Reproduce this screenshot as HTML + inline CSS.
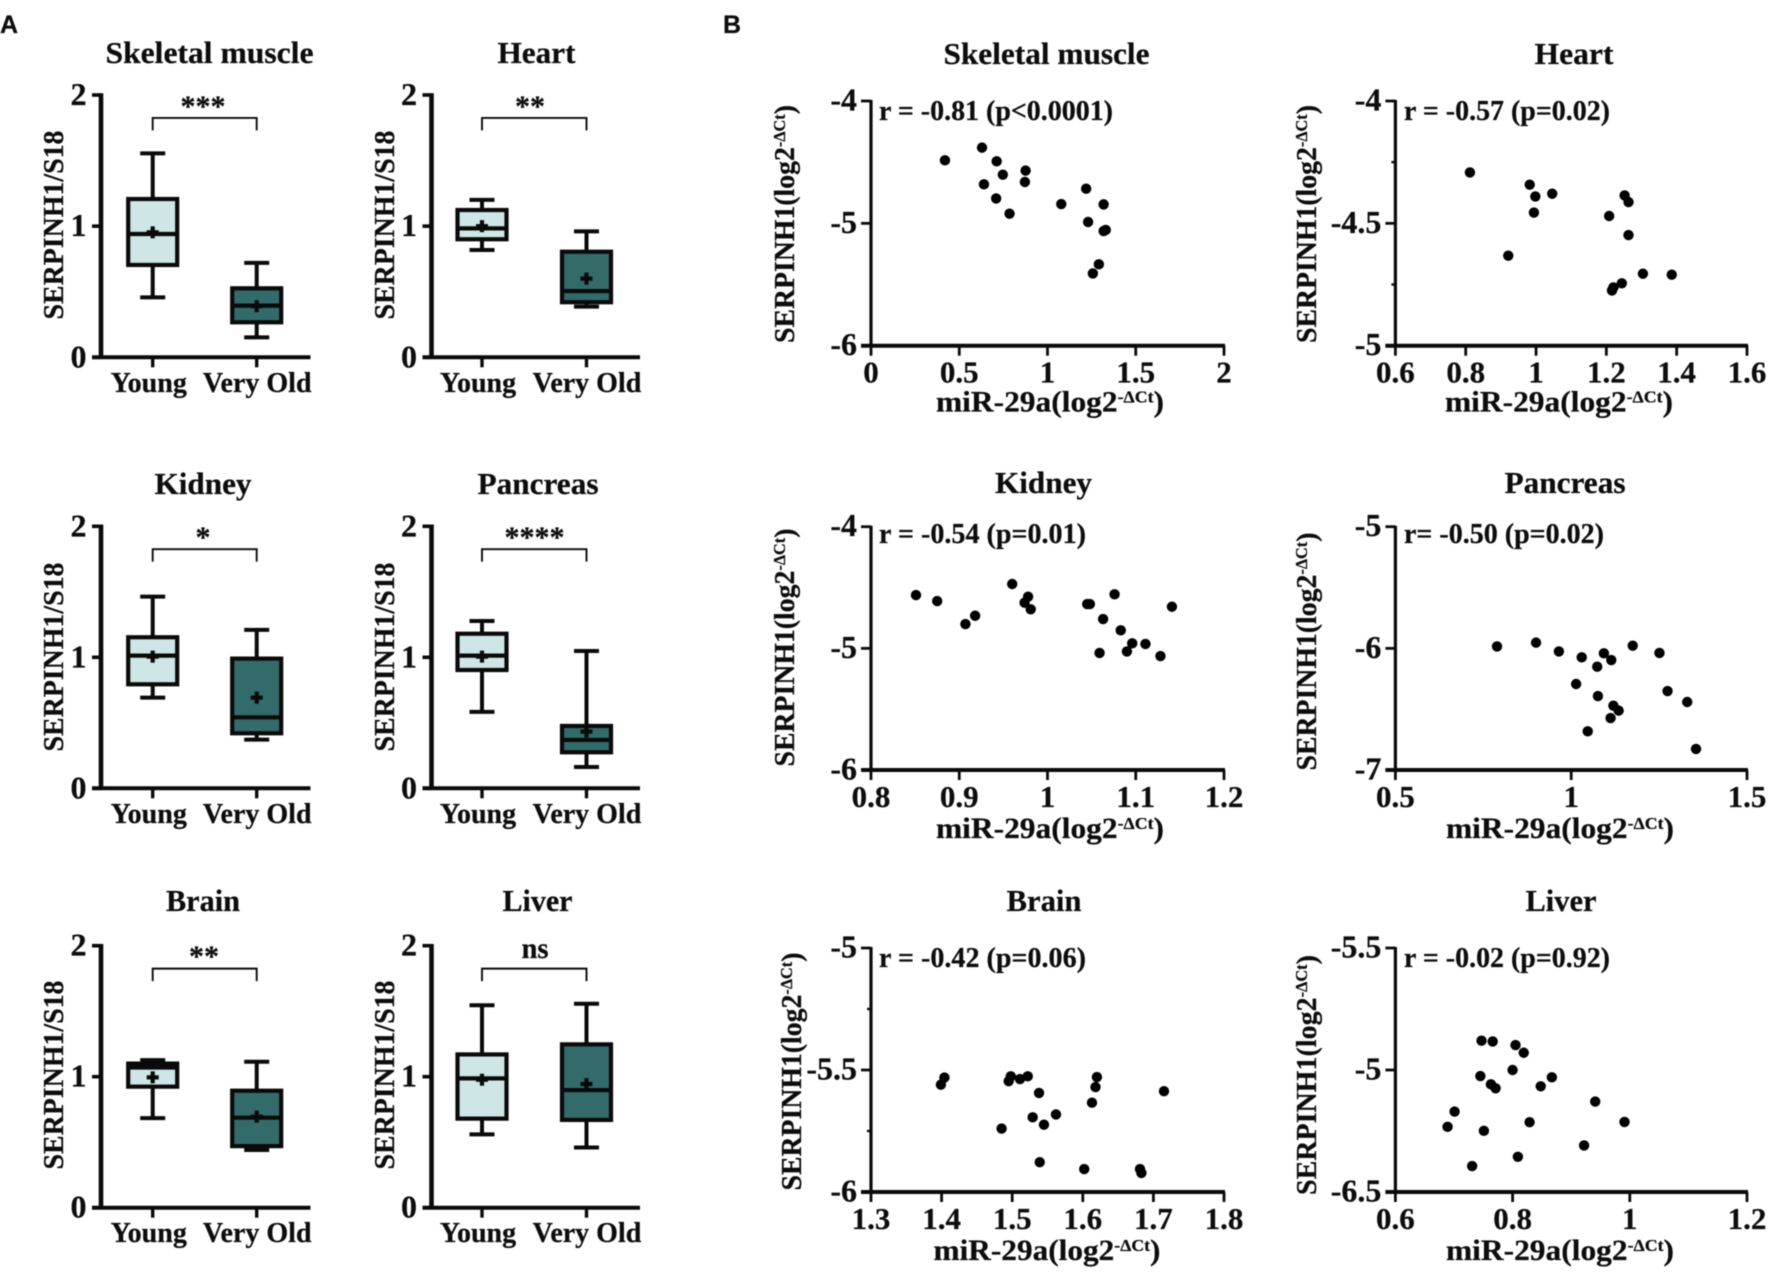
<!DOCTYPE html>
<html lang="en">
<head>
<meta charset="utf-8">
<title>SERPINH1 expression and miR-29a correlation across tissues</title>
<style>
html,body{margin:0;padding:0;background:#fff;}
svg{display:block;filter:blur(0.45px);}
text{font-family:"Liberation Serif",serif;font-weight:bold;fill:#0d0d0d;stroke:#0d0d0d;stroke-width:0.25px;}
.sans{font-family:"Liberation Sans",sans-serif;}
</style>
</head>
<body>
<svg id="figure" xmlns="http://www.w3.org/2000/svg" width="1772" height="1277" viewBox="0 0 1772 1277">
<rect x="0" y="0" width="1772" height="1277" fill="#fff"/>
<text class="sans" x="0" y="33" font-size="25">A</text>
<text class="sans" x="723" y="33" font-size="25">B</text>

<g id="box-skeletal">
<text x="209.5" y="63" text-anchor="middle" font-size="31" textLength="208" lengthAdjust="spacingAndGlyphs">Skeletal muscle</text>
<text x="63" y="225" transform="rotate(-90 63 225)" text-anchor="middle" font-size="29" textLength="189" lengthAdjust="spacingAndGlyphs">SERPINH1/S18</text>
<text x="203" y="116" text-anchor="middle" font-size="30">***</text>
</g>
<g id="box-heart">
<text x="536.5" y="63" text-anchor="middle" font-size="31" textLength="78" lengthAdjust="spacingAndGlyphs">Heart</text>
<text x="394" y="225" transform="rotate(-90 394 225)" text-anchor="middle" font-size="29" textLength="189" lengthAdjust="spacingAndGlyphs">SERPINH1/S18</text>
<text x="530" y="116" text-anchor="middle" font-size="30">**</text>
</g>
<g id="box-kidney">
<text x="203" y="494" text-anchor="middle" font-size="31" textLength="97" lengthAdjust="spacingAndGlyphs">Kidney</text>
<text x="63" y="657" transform="rotate(-90 63 657)" text-anchor="middle" font-size="29" textLength="189" lengthAdjust="spacingAndGlyphs">SERPINH1/S18</text>
<text x="203" y="547" text-anchor="middle" font-size="30">*</text>
</g>
<g id="box-pancreas">
<text x="538" y="494" text-anchor="middle" font-size="31" textLength="121" lengthAdjust="spacingAndGlyphs">Pancreas</text>
<text x="394" y="657" transform="rotate(-90 394 657)" text-anchor="middle" font-size="29" textLength="189" lengthAdjust="spacingAndGlyphs">SERPINH1/S18</text>
<text x="534.5" y="547" text-anchor="middle" font-size="30">****</text>
</g>
<g id="box-brain">
<text x="203" y="911" text-anchor="middle" font-size="31" textLength="74" lengthAdjust="spacingAndGlyphs">Brain</text>
<text x="63" y="1075" transform="rotate(-90 63 1075)" text-anchor="middle" font-size="29" textLength="189" lengthAdjust="spacingAndGlyphs">SERPINH1/S18</text>
<text x="204" y="966" text-anchor="middle" font-size="30">**</text>
</g>
<g id="box-liver">
<text x="537.5" y="911" text-anchor="middle" font-size="31" textLength="70" lengthAdjust="spacingAndGlyphs">Liver</text>
<text x="394" y="1075" transform="rotate(-90 394 1075)" text-anchor="middle" font-size="29" textLength="189" lengthAdjust="spacingAndGlyphs">SERPINH1/S18</text>
<text x="535" y="958" text-anchor="middle" font-size="30" textLength="27" lengthAdjust="spacingAndGlyphs">ns</text>
</g>

<g id="scatter-skeletal">
<text x="1046.5" y="64" text-anchor="middle" font-size="31" textLength="206" lengthAdjust="spacingAndGlyphs">Skeletal muscle</text>
<text x="879" y="120" font-size="28" textLength="234" lengthAdjust="spacingAndGlyphs">r = -0.81 (p&lt;0.0001)</text>
<text x="794" y="224" transform="rotate(-90 794 224)" text-anchor="middle" font-size="29" textLength="238" lengthAdjust="spacingAndGlyphs">SERPINH1(log2<tspan font-size="17" dy="-9">-ΔCt</tspan><tspan dy="9">)</tspan></text>
<text x="1050" y="411.7" text-anchor="middle" font-size="30" textLength="228" lengthAdjust="spacingAndGlyphs">miR-29a(log2<tspan font-size="17" dy="-9">-ΔCt</tspan><tspan dy="9">)</tspan></text>
</g>
<g id="scatter-heart">
<text x="1574" y="64" text-anchor="middle" font-size="31" textLength="79" lengthAdjust="spacingAndGlyphs">Heart</text>
<text x="1404" y="120" font-size="28" textLength="206" lengthAdjust="spacingAndGlyphs">r = -0.57 (p=0.02)</text>
<text x="1316" y="224" transform="rotate(-90 1316 224)" text-anchor="middle" font-size="29" textLength="238" lengthAdjust="spacingAndGlyphs">SERPINH1(log2<tspan font-size="17" dy="-9">-ΔCt</tspan><tspan dy="9">)</tspan></text>
<text x="1559" y="411.7" text-anchor="middle" font-size="30" textLength="228" lengthAdjust="spacingAndGlyphs">miR-29a(log2<tspan font-size="17" dy="-9">-ΔCt</tspan><tspan dy="9">)</tspan></text>
</g>
<g id="scatter-kidney">
<text x="1043.5" y="493" text-anchor="middle" font-size="31" textLength="97" lengthAdjust="spacingAndGlyphs">Kidney</text>
<text x="879" y="543" font-size="28" textLength="207" lengthAdjust="spacingAndGlyphs">r = -0.54 (p=0.01)</text>
<text x="794" y="647.5" transform="rotate(-90 794 647.5)" text-anchor="middle" font-size="29" textLength="238" lengthAdjust="spacingAndGlyphs">SERPINH1(log2<tspan font-size="17" dy="-9">-ΔCt</tspan><tspan dy="9">)</tspan></text>
<text x="1050" y="838" text-anchor="middle" font-size="30" textLength="228" lengthAdjust="spacingAndGlyphs">miR-29a(log2<tspan font-size="17" dy="-9">-ΔCt</tspan><tspan dy="9">)</tspan></text>
</g>
<g id="scatter-pancreas">
<text x="1565" y="493" text-anchor="middle" font-size="31" textLength="121" lengthAdjust="spacingAndGlyphs">Pancreas</text>
<text x="1404" y="543" font-size="28" textLength="200" lengthAdjust="spacingAndGlyphs">r= -0.50 (p=0.02)</text>
<text x="1316" y="651.5" transform="rotate(-90 1316 651.5)" text-anchor="middle" font-size="29" textLength="238" lengthAdjust="spacingAndGlyphs">SERPINH1(log2<tspan font-size="17" dy="-9">-ΔCt</tspan><tspan dy="9">)</tspan></text>
<text x="1560" y="838" text-anchor="middle" font-size="30" textLength="228" lengthAdjust="spacingAndGlyphs">miR-29a(log2<tspan font-size="17" dy="-9">-ΔCt</tspan><tspan dy="9">)</tspan></text>
</g>
<g id="scatter-brain">
<text x="1044" y="911" text-anchor="middle" font-size="31" textLength="75" lengthAdjust="spacingAndGlyphs">Brain</text>
<text x="879" y="967" font-size="28" textLength="207" lengthAdjust="spacingAndGlyphs">r = -0.42 (p=0.06)</text>
<text x="801" y="1071.5" transform="rotate(-90 801 1071.5)" text-anchor="middle" font-size="29" textLength="238" lengthAdjust="spacingAndGlyphs">SERPINH1(log2<tspan font-size="17" dy="-9">-ΔCt</tspan><tspan dy="9">)</tspan></text>
<text x="1047" y="1260" text-anchor="middle" font-size="30" textLength="227" lengthAdjust="spacingAndGlyphs">miR-29a(log2<tspan font-size="17" dy="-9">-ΔCt</tspan><tspan dy="9">)</tspan></text>
</g>
<g id="scatter-liver">
<text x="1561" y="911" text-anchor="middle" font-size="31" textLength="71" lengthAdjust="spacingAndGlyphs">Liver</text>
<text x="1404" y="967" font-size="28" textLength="206" lengthAdjust="spacingAndGlyphs">r = -0.02 (p=0.92)</text>
<text x="1316" y="1075" transform="rotate(-90 1316 1075)" text-anchor="middle" font-size="29" textLength="240" lengthAdjust="spacingAndGlyphs">SERPINH1(log2<tspan font-size="17" dy="-9">-ΔCt</tspan><tspan dy="9">)</tspan></text>
<text x="1560" y="1260" text-anchor="middle" font-size="30" textLength="228" lengthAdjust="spacingAndGlyphs">miR-29a(log2<tspan font-size="17" dy="-9">-ΔCt</tspan><tspan dy="9">)</tspan></text>
</g>
</svg>

<script>
// ---------- Box plot data: [whisker low, Q1, median, Q3, whisker high, mean] ----------
const groupLabels = ['Young', 'Very Old'];
const boxYTicks = [0, 1, 2];
const skeletalYoung = [0.457, 0.704, 0.94, 1.207, 1.555, 0.953];
const skeletalOld = [0.152, 0.267, 0.394, 0.526, 0.72, 0.39];
const heartYoung = [0.818, 0.9, 0.983, 1.123, 1.2, 1.0];
const heartOld = [0.386, 0.42, 0.505, 0.805, 0.96, 0.6];
const kidneyYoung = [0.692, 0.794, 1.013, 1.153, 1.463, 1.005];
const kidneyOld = [0.372, 0.42, 0.542, 0.99, 1.209, 0.692];
const pancreasYoung = [0.583, 0.903, 1.013, 1.18, 1.277, 1.005];
const pancreasOld = [0.163, 0.275, 0.369, 0.476, 1.048, 0.433];
const brainYoung = [0.684, 0.924, 1.07, 1.1, 1.127, 0.995];
const brainOld = [0.44, 0.47, 0.687, 0.893, 1.114, 0.695];
const liverYoung = [0.56, 0.68, 0.987, 1.17, 1.545, 0.977];
const liverOld = [0.46, 0.67, 0.898, 1.247, 1.557, 0.944];

// ---------- Scatter data ----------
const skeletalX = [0.419,0.629,0.712,0.747,0.876,0.872,0.64,0.709,0.785,1.078,1.219,1.318,1.23,1.318,1.33,1.291,1.257];
const skeletalY = [-4.485,-4.381,-4.493,-4.602,-4.569,-4.662,-4.681,-4.796,-4.921,-4.842,-4.717,-4.845,-4.989,-5.063,-5.054,-5.335,-5.409];
const skeletalXTicks = [0,0.5,1,1.5,2];
const skeletalYTicks = [-6,-5,-4];

const heartX = [0.812,0.982,0.998,1.046,0.994,1.208,1.252,1.263,1.263,0.921,1.304,1.386,1.244,1.22,1.216];
const heartY = [-4.292,-4.342,-4.39,-4.379,-4.456,-4.47,-4.386,-4.413,-4.548,-4.632,-4.706,-4.71,-4.745,-4.762,-4.774];
const heartXTicks = [0.6,0.8,1,1.2,1.4,1.6];
const heartYTicks = [-5,-4.5,-4];
const heartYMinor = [-4.75,-4.25];

const kidneyX = [0.851,0.875,0.907,0.918,0.96,0.978,0.974,0.981,1.045,1.048,1.076,1.063,1.083,1.096,1.09,1.111,1.059,1.128,1.141];
const kidneyY = [-4.562,-4.611,-4.8,-4.732,-4.471,-4.575,-4.625,-4.679,-4.636,-4.636,-4.556,-4.759,-4.852,-4.959,-5.025,-4.964,-5.038,-5.063,-4.658];
const kidneyXTicks = [0.8,0.9,1,1.1,1.2];
const kidneyYTicks = [-6,-5,-4];

const pancreasX = [0.789,0.9,0.965,1.03,1.093,1.114,1.175,1.251,1.074,1.014,1.274,1.076,1.33,1.12,1.135,1.112,1.047,1.355];
const pancreasY = [-5.984,-5.953,-6.025,-6.074,-6.041,-6.096,-5.978,-6.038,-6.151,-6.293,-6.351,-6.392,-6.441,-6.471,-6.512,-6.573,-6.682,-6.827];
const pancreasXTicks = [0.5,1,1.5];
const pancreasYTicks = [-7,-6,-5];

const brainX = [1.404,1.399,1.498,1.495,1.511,1.522,1.538,1.62,1.618,1.715,1.613,1.562,1.529,1.545,1.485,1.539,1.602,1.681,1.683];
const brainY = [-5.531,-5.56,-5.526,-5.546,-5.537,-5.526,-5.594,-5.529,-5.57,-5.587,-5.634,-5.682,-5.694,-5.724,-5.74,-5.878,-5.906,-5.906,-5.922];
const brainXTicks = [1.3,1.4,1.5,1.6,1.7,1.8];
const brainYTicks = [-6,-5.5,-5];
const brainYMinor = [-5.75,-5.25];

const liverX = [0.747,0.766,0.805,0.819,0.8,0.745,0.763,0.771,0.848,0.867,0.941,0.991,0.829,0.701,0.689,0.751,0.922,0.809,0.731];
const liverY = [-4.64,-4.649,-4.694,-4.788,-5.0,-5.074,-5.176,-5.225,-5.2,-5.09,-5.388,-5.638,-5.642,-5.511,-5.699,-5.748,-5.928,-6.067,-6.181];
const liverXTicks = [0.6,0.8,1,1.2];
const liverYTicks = [-6.5,-5,-3.5];
const liverYTickLabels = ['-6.5','-5','-5.5'];

const NS = 'http://www.w3.org/2000/svg';
const INK = '#0a0a0a';

function make(tag, parent, attrs) {
  const e = document.createElementNS(NS, tag);
  for (const k in attrs) e.setAttribute(k, attrs[k]);
  parent.appendChild(e);
  return e;
}
function seg(parent, x1, y1, x2, y2, w) {
  return make('line', parent, {x1: x1, y1: y1, x2: x2, y2: y2, stroke: INK, 'stroke-width': w});
}
function tickText(parent, str, x, y, size, anchor) {
  const t = make('text', parent, {x: x, y: y, 'font-size': size, 'text-anchor': anchor});
  t.textContent = str;
  return t;
}

function drawBoxPlot(id, young, old, L) {
  const g = document.getElementById(id);
  const sy = v => L.y0 - v / 2 * (L.y0 - L.y2);
  const cx = i => L.x1 + i * (L.x2 - L.x1);

  const yAxis = seg(g, L.ax, L.y2 - 1.75, L.ax, L.y0 + 1.75, 4.6);
  
  
  const xAxis = seg(g, L.ax - 9, L.y0, L.xEnd, L.y0, 4);
  
  

  boxYTicks.forEach(v => {
    const tk = seg(g, L.ax - 9, sy(v), L.ax, sy(v), 3.6);
    
    
    const lb = tickText(g, String(v), L.ax - 14.5, sy(v) + 10, 32, 'end');
    
    
  });

  groupLabels.forEach((name, i) => {
    const tk = seg(g, cx(i), L.y0, cx(i), L.y0 + 10, 3.4);
    
    
    const lb = tickText(g, name, cx(i) + (i === 0 ? -4 : 0.5), L.y0 + 34.5, 28, 'middle');
    
    
  });

  const brTop = sy(1.825), brBottom = sy(1.73);
  const bracket = make('path', g, {d: 'M' + cx(0) + ' ' + brBottom + 'V' + brTop + 'H' + cx(1) + 'V' + brBottom, fill: 'none', stroke: INK, 'stroke-width': 1.9});
  
  

  [young, old].forEach((vals, i) => {
    const x = cx(i), hw = 24.5, cap = 12.5;
    const whisker = seg(g, x, sy(vals[0]), x, sy(vals[4]), 4);
    
    
    const capLow = seg(g, x - cap, sy(vals[0]), x + cap, sy(vals[0]), 4);
    
    
    const capHigh = seg(g, x - cap, sy(vals[4]), x + cap, sy(vals[4]), 4);
    
    
    const box = make('rect', g, {x: x - hw, y: sy(vals[3]), width: 2 * hw, height: sy(vals[1]) - sy(vals[3]), fill: i === 0 ? '#cfe6e6' : '#336a6a', stroke: INK, 'stroke-width': 4.2});
    
    
    const med = seg(g, x - hw, sy(vals[2]), x + hw, sy(vals[2]), 4.2);
    
    
    const meanH = seg(g, x - 6, sy(vals[5]), x + 6, sy(vals[5]), 4.2);
    
    
    const meanV = seg(g, x, sy(vals[5]) - 6, x, sy(vals[5]) + 6, 4.2);
    
    
  });
}

function drawScatter(id, xs, ys, xTicks, yTicks, yLabels, yMinor, L) {
  const g = document.getElementById(id);
  const x0 = xTicks[0], x1 = xTicks[xTicks.length - 1];
  const y0 = yTicks[0], y1 = yTicks[yTicks.length - 1];
  const sx = v => L.ax + (v - x0) / (x1 - x0) * (L.xEnd - L.ax);
  const sy = v => L.bottom - (v - y0) / (y1 - y0) * (L.bottom - L.top);

  const yAxis = seg(g, L.ax, L.top - 1, L.ax, L.bottom + 1, 3.2);
  
  
  const xAxis = seg(g, L.ax - 10, L.bottom, L.xEnd + 1, L.bottom, 4);
  
  

  yTicks.forEach((v, i) => {
    const tk = seg(g, L.ax - 10, sy(v), L.ax, sy(v), 2.8);
    
    
    const lb = tickText(g, yLabels ? yLabels[i] : String(v), L.ax - 14, sy(v) + 9.5, 32, 'end');
    
    
  });
  (yMinor || []).forEach(v => {
    const tk = seg(g, L.ax - 4, sy(v), L.ax, sy(v), 2.4);
    
    
  });
  xTicks.forEach(v => {
    const tk = seg(g, sx(v), L.bottom, sx(v), L.bottom + 10, 2.8);
    
    
    const lb = tickText(g, String(v), sx(v), L.bottom + 37, 31, 'middle');
    
    
  });
  xs.forEach((v, i) => {
    const dot = make('circle', g, {cx: sx(v), cy: sy(ys[i]), r: 5.2, fill: '#000'});
    
    
  });
}

const colA1 = {ax: 101, xEnd: 310.5, x1: 152.7, x2: 256.7};
const colA2 = {ax: 431.5, xEnd: 640, x1: 482, x2: 586.5};
const rowA1 = {y2: 95, y0: 357.3};
const rowA2 = {y2: 526.3, y0: 788.3};
const rowA3 = {y2: 945.7, y0: 1207.7};
drawBoxPlot('box-skeletal', skeletalYoung, skeletalOld, Object.assign({}, colA1, rowA1));
drawBoxPlot('box-heart', heartYoung, heartOld, Object.assign({}, colA2, rowA1));
drawBoxPlot('box-kidney', kidneyYoung, kidneyOld, Object.assign({}, colA1, rowA2));
drawBoxPlot('box-pancreas', pancreasYoung, pancreasOld, Object.assign({}, colA2, rowA2));
drawBoxPlot('box-brain', brainYoung, brainOld, Object.assign({}, colA1, rowA3));
drawBoxPlot('box-liver', liverYoung, liverOld, Object.assign({}, colA2, rowA3));

const colB1 = {ax: 871, xEnd: 1224};
const colB2 = {ax: 1395.4, xEnd: 1747};
const rowB1 = {top: 101, bottom: 345.7};
const rowB2 = {top: 526.7, bottom: 770};
const rowB3 = {top: 948, bottom: 1192};
drawScatter('scatter-skeletal', skeletalX, skeletalY, skeletalXTicks, skeletalYTicks, null, null, Object.assign({}, colB1, rowB1));
drawScatter('scatter-heart', heartX, heartY, heartXTicks, heartYTicks, null, heartYMinor, Object.assign({}, colB2, rowB1));
drawScatter('scatter-kidney', kidneyX, kidneyY, kidneyXTicks, kidneyYTicks, null, null, Object.assign({}, colB1, rowB2));
drawScatter('scatter-pancreas', pancreasX, pancreasY, pancreasXTicks, pancreasYTicks, null, null, Object.assign({}, colB2, rowB2));
drawScatter('scatter-brain', brainX, brainY, brainXTicks, brainYTicks, null, brainYMinor, Object.assign({}, colB1, rowB3));
drawScatter('scatter-liver', liverX, liverY, liverXTicks, liverYTicks, liverYTickLabels, null, Object.assign({}, colB2, rowB3));
</script>
</body>
</html>
